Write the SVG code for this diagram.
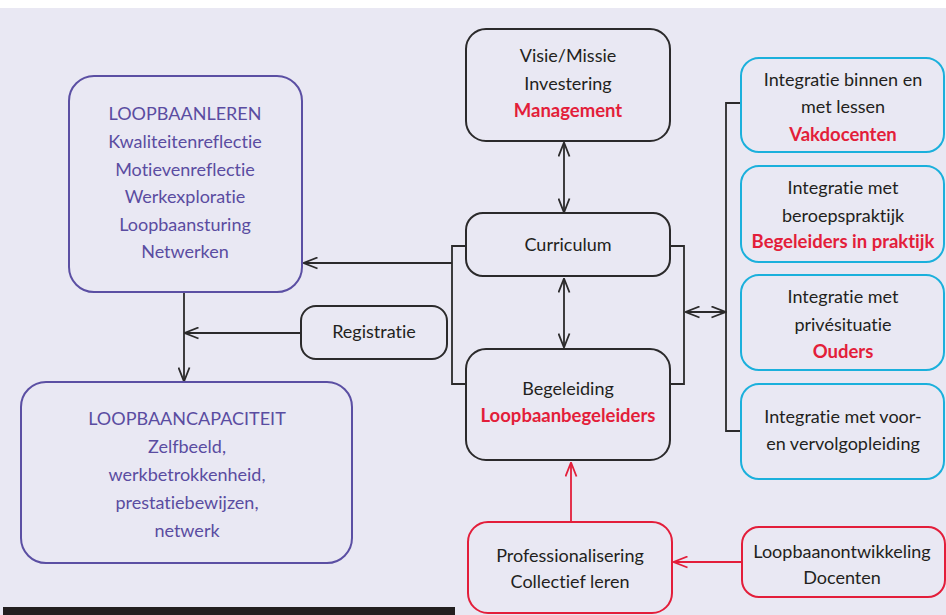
<svg xmlns="http://www.w3.org/2000/svg" width="946" height="615" viewBox="0 0 946 615">
<style>
text{font-family:Lato,"Open Sans","Liberation Sans",sans-serif;font-size:18px;text-anchor:middle;font-variant-ligatures:none;font-feature-settings:"liga" 0,"dlig" 0}
.p{fill:#5a4ca1}
.k{fill:#231f20}
.r{fill:#e31e3a;font-weight:bold;font-size:18.5px}
.bp{fill:none;stroke:#5b4fa3;stroke-width:2}
.bk{fill:none;stroke:#2b2a2b;stroke-width:2}
.br{fill:none;stroke:#e31e3a;stroke-width:2}
.bc{fill:none;stroke:#1bb0dc;stroke-width:2}
.c{fill:none;stroke:#2b2a2b;stroke-width:1.8}
.cr{fill:none;stroke:#e31e3a;stroke-width:1.8}
</style>
<defs>
<marker id="a" viewBox="-1 -1 16 13" refX="13.5" refY="5.5" markerWidth="16" markerHeight="13" markerUnits="userSpaceOnUse" orient="auto-start-reverse">
<path d="M0,0 L14,5.5 L0,11" fill="none" stroke="#2b2a2b" stroke-width="1.8"/>
</marker>
<marker id="ar" viewBox="-1 -1 16 13" refX="13.5" refY="5.5" markerWidth="16" markerHeight="13" markerUnits="userSpaceOnUse" orient="auto-start-reverse">
<path d="M0,0 L14,5.5 L0,11" fill="none" stroke="#e31e3a" stroke-width="1.8"/>
</marker>
</defs>
<rect x="0" y="0" width="946" height="615" fill="#e9e8f3"/>
<rect x="0" y="0" width="946" height="8" fill="#ffffff"/>
<rect x="3" y="607" width="452" height="8" fill="#231f20"/>

<g id="connectors">
<line class="c" x1="184" y1="292" x2="184" y2="381" marker-end="url(#a)"/>
<line class="c" x1="301" y1="333" x2="185" y2="333" marker-end="url(#a)"/>
<polyline class="c" points="466,246 452,246 452,384 466,384"/>
<line class="c" x1="452" y1="263" x2="304" y2="263" marker-end="url(#a)"/>
<line class="c" x1="564" y1="143" x2="564" y2="212" marker-start="url(#a)" marker-end="url(#a)"/>
<line class="c" x1="564" y1="279" x2="564" y2="347" marker-start="url(#a)" marker-end="url(#a)"/>
<polyline class="c" points="670,246 684,246 684,384 670,384"/>
<line class="c" x1="686" y1="312" x2="725" y2="312" marker-start="url(#a)" marker-end="url(#a)"/>
<polyline class="c" points="741,103 726,103 726,431 741,431"/>
<line class="cr" x1="571" y1="522" x2="571" y2="463" marker-end="url(#ar)"/>
<line class="cr" x1="742" y1="562" x2="674" y2="562" marker-end="url(#ar)"/>
</g>

<g id="loopbaanleren">
<rect class="bp" x="69" y="76" width="233" height="216" rx="25"/>
<text class="p" x="185" y="120">LOOPBAANLEREN</text>
<text class="p" x="185" y="148">Kwaliteitenreflectie</text>
<text class="p" x="185" y="176">Motievenreflectie</text>
<text class="p" x="185" y="203">Werkexploratie</text>
<text class="p" x="185" y="231">Loopbaansturing</text>
<text class="p" x="185" y="258">Netwerken</text>
</g>

<g id="loopbaancapaciteit">
<rect class="bp" x="21" y="382" width="331" height="181" rx="25"/>
<text class="p" x="187" y="425">LOOPBAANCAPACITEIT</text>
<text class="p" x="187" y="453">Zelfbeeld,</text>
<text class="p" x="187" y="481">werkbetrokkenheid,</text>
<text class="p" x="187" y="509">prestatiebewijzen,</text>
<text class="p" x="187" y="537">netwerk</text>
</g>

<g id="registratie">
<rect class="bk" x="301" y="306" width="146" height="53" rx="15"/>
<text class="k" x="374" y="338">Registratie</text>
</g>

<g id="visie">
<rect class="bk" x="466" y="29" width="204" height="112" rx="20"/>
<text class="k" x="568" y="62">Visie/Missie</text>
<text class="k" x="568" y="90">Investering</text>
<text class="r" x="568" y="117">Management</text>
</g>

<g id="curriculum">
<rect class="bk" x="466" y="213" width="204" height="63" rx="17"/>
<text class="k" x="568" y="251">Curriculum</text>
</g>

<g id="begeleiding">
<rect class="bk" x="466" y="349" width="204" height="111" rx="20"/>
<text class="k" x="568" y="395">Begeleiding</text>
<text class="r" x="568" y="422">Loopbaanbegeleiders</text>
</g>

<g id="professionalisering">
<rect class="br" x="468" y="522" width="204" height="91" rx="20"/>
<text class="k" x="570" y="562">Professionalisering</text>
<text class="k" x="570" y="588">Collectief leren</text>
</g>

<g id="loopbaanontwikkeling">
<rect class="br" x="742" y="527" width="203" height="70" rx="17"/>
<text class="k" x="842" y="558">Loopbaanontwikkeling</text>
<text class="k" x="842" y="584">Docenten</text>
</g>

<g id="vakdocenten">
<rect class="bc" x="741" y="58" width="203" height="94" rx="18"/>
<text class="k" x="843" y="86">Integratie binnen en</text>
<text class="k" x="843" y="113">met lessen</text>
<text class="r" x="843" y="141">Vakdocenten</text>
</g>

<g id="praktijk">
<rect class="bc" x="741" y="166" width="203" height="96" rx="18"/>
<text class="k" x="843" y="194">Integratie met</text>
<text class="k" x="843" y="222">beroepspraktijk</text>
<text class="r" x="843" y="248">Begeleiders in praktijk</text>
</g>

<g id="ouders">
<rect class="bc" x="741" y="275" width="203" height="95" rx="18"/>
<text class="k" x="843" y="303">Integratie met</text>
<text class="k" x="843" y="331">privésituatie</text>
<text class="r" x="843" y="358">Ouders</text>
</g>

<g id="vooropleiding">
<rect class="bc" x="741" y="384" width="203" height="95" rx="18"/>
<text class="k" x="843" y="423">Integratie met voor-</text>
<text class="k" x="843" y="450">en vervolgopleiding</text>
</g>
</svg>
